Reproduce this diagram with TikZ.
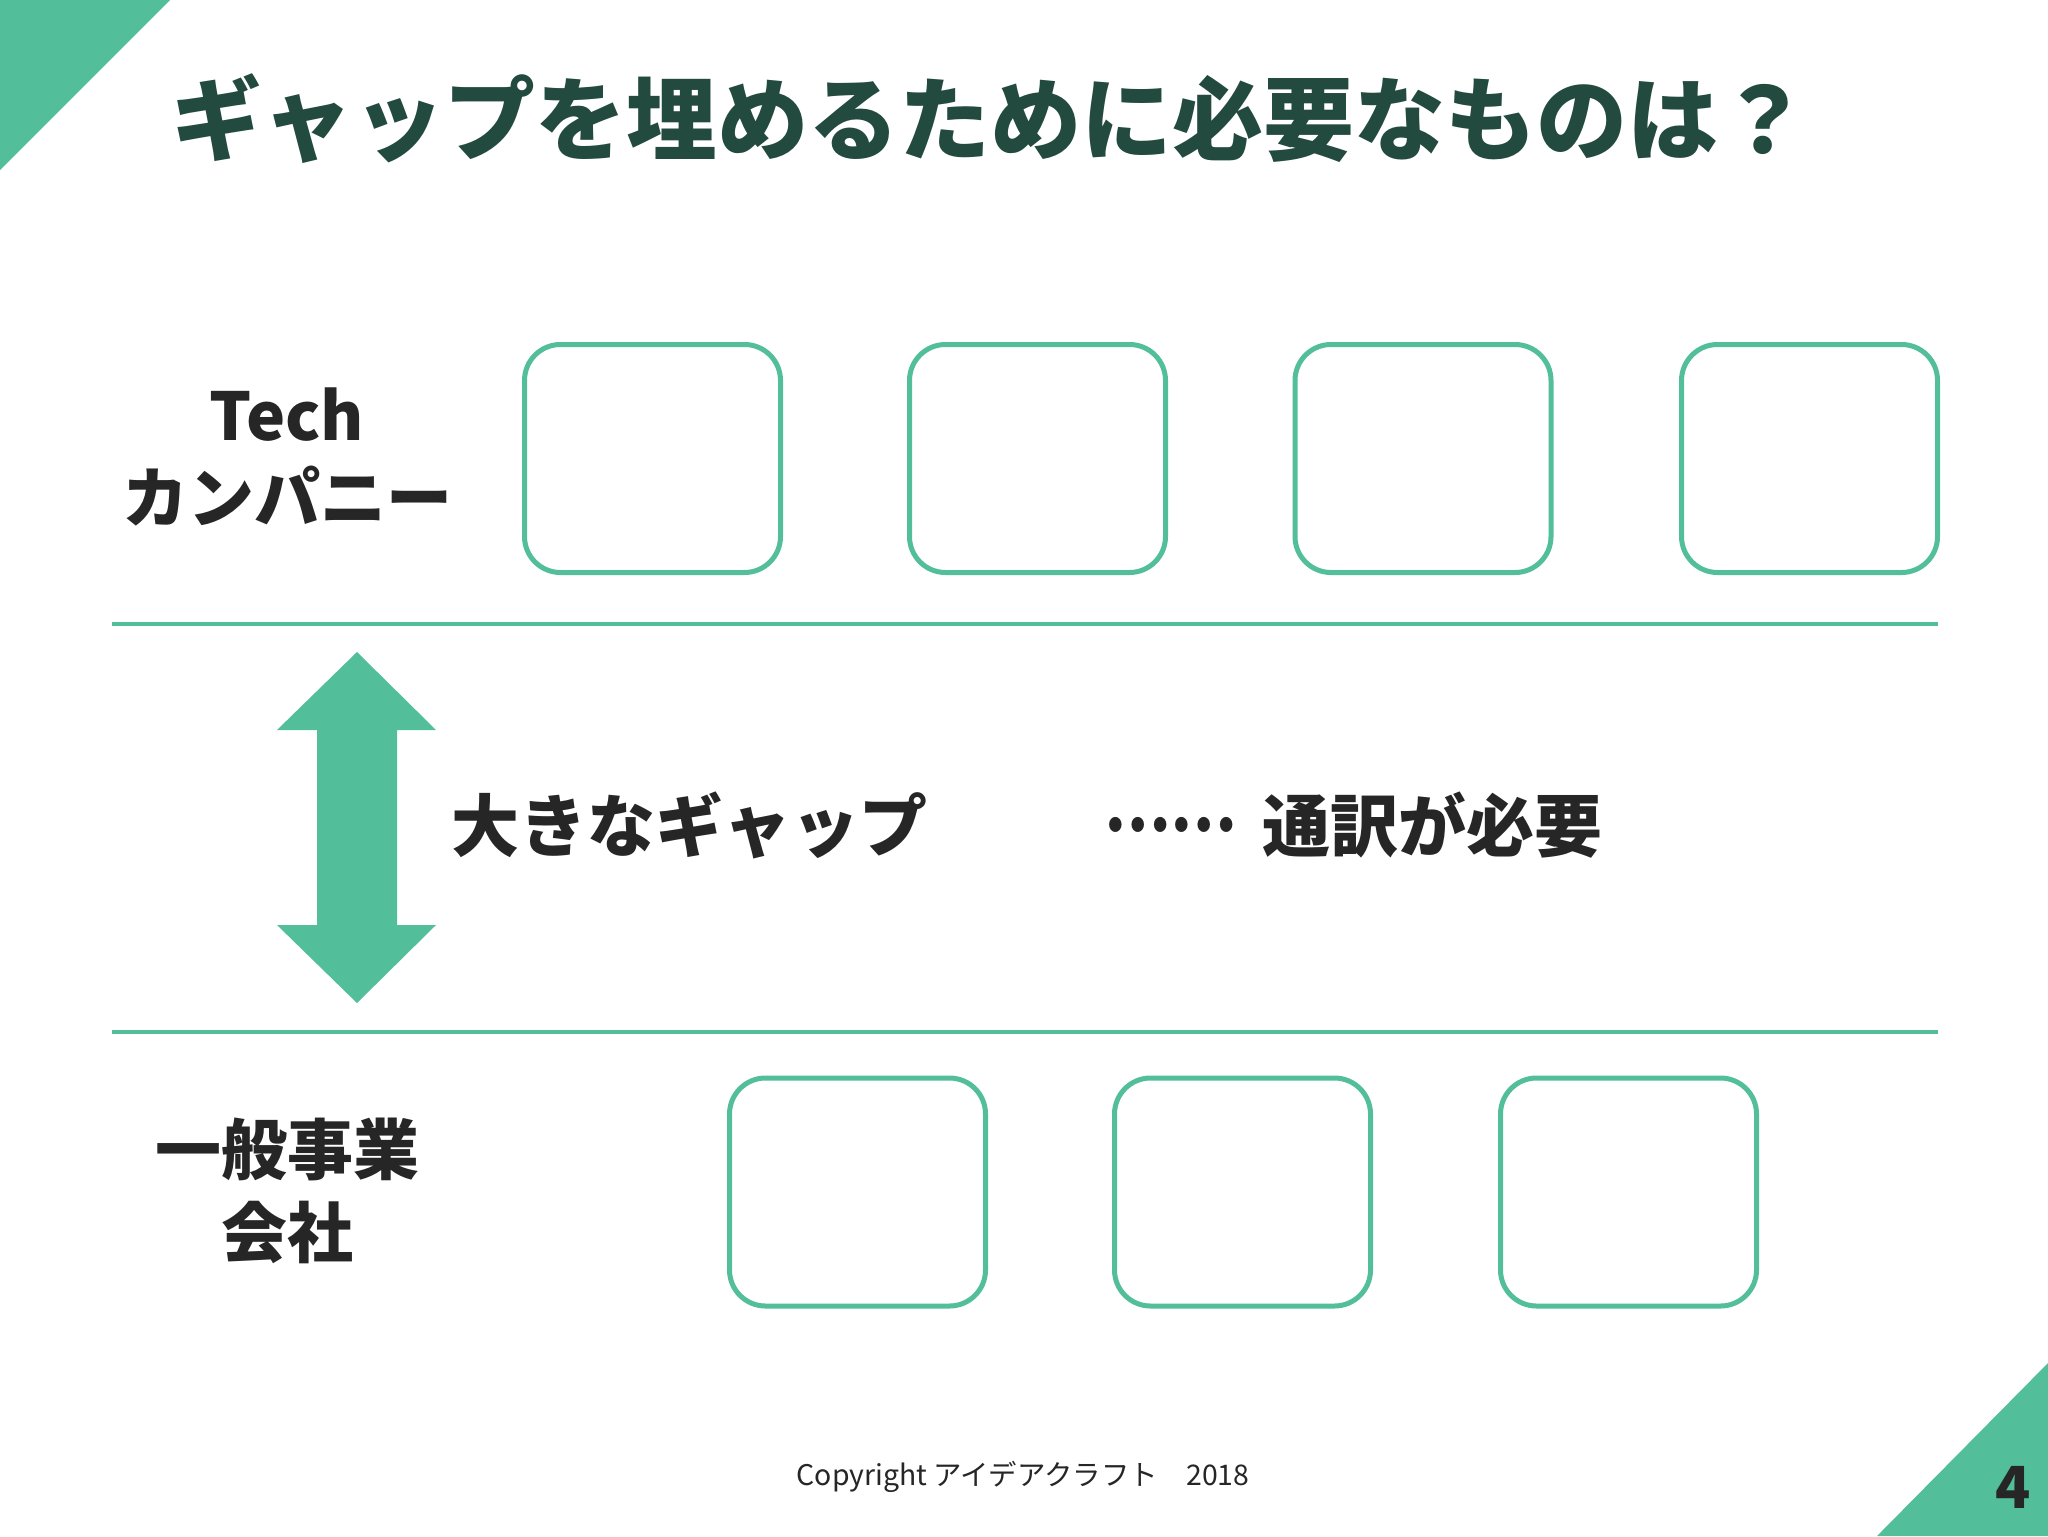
\documentclass[tikz,border=0pt]{standalone}
\usepackage{fontspec}
\setmainfont{Noto Sans CJK JP}
\definecolor{accent}{RGB}{82,190,154}
\definecolor{titlecol}{RGB}{35,74,63}
\definecolor{textcol}{RGB}{38,38,38}
\tikzset{
  slot/.style={draw=accent, line width=2.5pt, rounded corners=18pt, minimum width=128pt, minimum height=114pt, inner sep=0pt},
  rowlabel/.style={font=\fontsize{33pt}{40pt}\selectfont\bfseries, text=textcol, align=center, inner sep=0pt},
  midtext/.style={font=\fontsize{34pt}{40pt}\selectfont\bfseries, text=textcol, inner sep=0pt},
  divider/.style={draw=accent, line width=2.2pt},
}
\begin{document}
\begin{tikzpicture}[x=0.5pt,y=-0.5pt]
\useasboundingbox (0,0) rectangle (2048,1536);
\fill[white] (0,0) rectangle (2048,1536);
% corner triangles
\fill[accent] (0,0) -- (170,0) -- (0,170) -- cycle;
\fill[accent] (2048,1363) -- (2048,1536) -- (1877,1536) -- cycle;
% title
\node[font=\fontsize{45.5pt}{50pt}\selectfont\bfseries, text=titlecol, inner sep=0pt] (title) at (990,119) {ギャップを埋めるために必要なものは？};
% row labels
\node[rowlabel] (tech) at (287,415) {Tech};
\node[rowlabel] (company) at (287,496) {カンパニー};
\node[rowlabel] (general) at (287,1149) {一般事業};
\node[rowlabel] (kaisha) at (287,1232) {会社};
% top row boxes
\node[slot] (t1) at (652.5,458.5) {};
\node[slot] (t2) at (1037.5,458.5) {};
\node[slot] (t3) at (1423,458.5) {};
\node[slot] (t4) at (1809.5,458.5) {};
% bottom row boxes
\node[slot] (b1) at (857.5,1192) {};
\node[slot] (b2) at (1242.5,1192) {};
\node[slot] (b3) at (1628.5,1192) {};
% divider lines
\coordinate (l1a) at (112,624);
\coordinate (l1b) at (1938,624);
\coordinate (l2a) at (112,1032);
\coordinate (l2b) at (1938,1032);
\draw[divider] (l1a) -- (l1b);
\draw[divider] (l2a) -- (l2b);
% double arrow
\fill[accent] (357,652) -- (436,730) -- (397,730) -- (397,925) -- (436,925) -- (357,1003)
  -- (277,925) -- (317,925) -- (317,730) -- (277,730) -- cycle;
% middle texts
\node[midtext, anchor=west] (gap) at (451,825) {大きなギャップ};
\node[midtext, anchor=west] (dots) at (1104,825) {\scalebox{0.87}[1]{……}};
\node[midtext, anchor=west] (need) at (1262,825) {通訳が必要};
% footer
\node[font=\fontsize{14.2pt}{18pt}\selectfont, text=textcol, inner sep=0pt] (copy) at (1023,1477) {Copyright アイデアクラフト　2018};
\node[font=\fontsize{29pt}{32pt}\selectfont\bfseries, text=textcol, inner sep=0pt] (page) at (2013,1487) {4};
\end{tikzpicture}
\end{document}
